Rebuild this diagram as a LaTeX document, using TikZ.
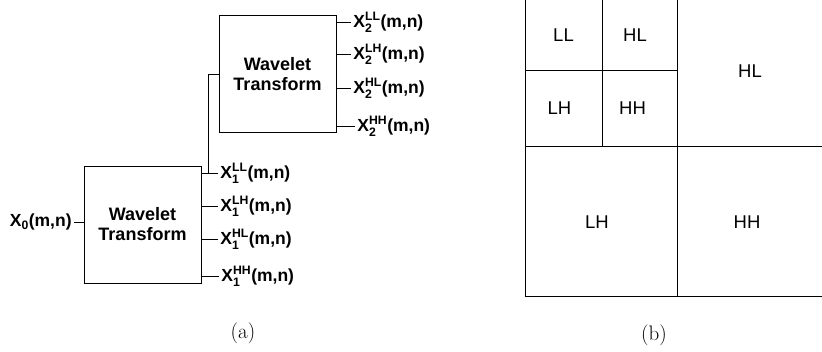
\documentclass[tikz,border=0pt]{standalone}
\usepackage{amsmath}
\usepackage{fontspec}
\newfontfamily\helv{Liberation Sans}
\usepackage{tikz}

\newcommand{\xband}[2]{$\text{X}^{\text{#2}}_{\text{#1}}$(m,n)}

\begin{document}
\begin{tikzpicture}[x=1pt, y=-1pt, line width=0.8pt,
		wtbox/.style={draw, minimum width=117pt, minimum height=117pt, align=center, inner sep=0pt, font=\helv\bfseries\fontsize{18}{20}\selectfont},
		band/.style={anchor=west, inner sep=2pt, font=\helv\bfseries\fontsize{17.5}{20}\selectfont},
		subband/.style={font=\helv\fontsize{18.5}{20}\selectfont},
		figcap/.style={font=\fontsize{21}{24}\selectfont}]
			\useasboundingbox (0,0) rectangle (822,351);
			
			% First level
			\node[wtbox] (wt1) at (142.5, 224.5) {Wavelet\\Transform};
			\node[band, anchor=east] (x0) at (74, 222) {X$_{\text{0}}$(m,n)};
			\draw (x0.east) -- (x0.east -| wt1.west);
			
			\node[band] (x1ll) at (218, 173) {\xband{1}{LL}};
			\node[band] (x1lh) at (218, 206) {\xband{1}{LH}};
			\node[band] (x1hl) at (218, 239) {\xband{1}{HL}};
			\node[band] (x1hh) at (219, 276) {\xband{1}{HH}};
			\foreach \b in {ll,lh,hl,hh}
				\draw (wt1.east |- x1\b.west) -- (x1\b.west);
			
			% Second level
			\node[wtbox] (wt2) at (277.5, 74) {Wavelet\\Transform};
			\coordinate (split) at (208, 173);
			\draw (split) |- (wt2.west);
			
			\node[band] (x2ll) at (351, 22) {\xband{2}{LL}};
			\node[band] (x2lh) at (351, 54) {\xband{2}{LH}};
			\node[band] (x2hl) at (351, 88) {\xband{2}{HL}};
			\node[band] (x2hh) at (355, 126) {\xband{2}{HH}};
			\foreach \b in {ll,lh,hl,hh}
				\draw (wt2.east |- x2\b.west) -- (x2\b.west);
			
			% Subband layout
			\draw (525,-5) rectangle (829,296);
			\draw (677,-5) -- (677,296);
			\draw (525,146) -- (829,146);
			\draw (602,-5) -- (602,146);
			\draw (525,70) -- (677,70);
			\node[subband] (ll2) at (563.5, 35) {LL};
			\node[subband] (hl2) at (635, 35) {HL};
			\node[subband] (lh2) at (559.5, 108) {LH};
			\node[subband] (hh2) at (632.5, 108) {HH};
			\node[subband] (hl1) at (750, 71) {HL};
			\node[subband] (lh1) at (597, 222) {LH};
			\node[subband] (hh1) at (747, 222) {HH};
			
			% Captions
			\node[figcap] (capa) at (243, 333) {(a)};
			\node[figcap] (capb) at (654, 335) {(b)};
		\end{tikzpicture}
\end{document}
